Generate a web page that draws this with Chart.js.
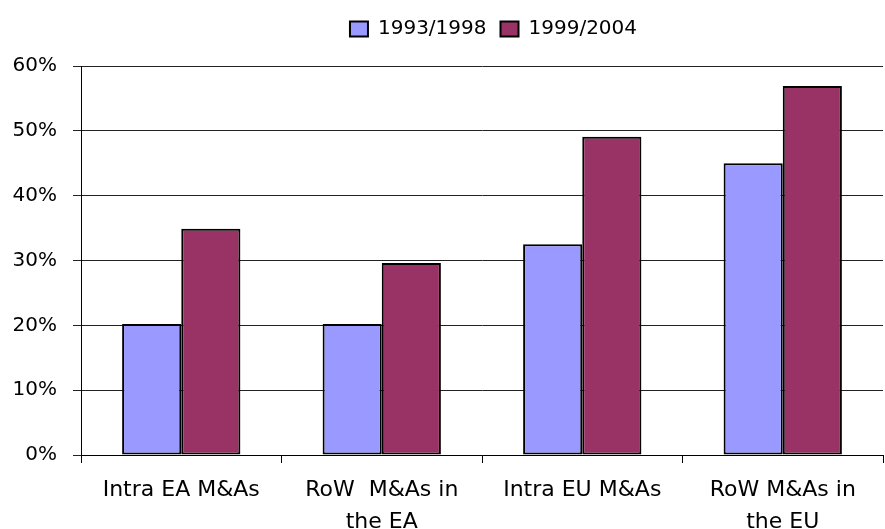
<!DOCTYPE html>
<html>
<head>
<meta charset="utf-8">
<script src="https://cdn.jsdelivr.net/npm/chart.js@4"></script>
<style>
html,body{margin:0;padding:0;background:#fff;}
#wrap{width:885px;height:529px;}
</style>
</head>
<body>
<div id="wrap"><canvas id="c" width="885" height="529"></canvas></div>
<script>
const categories = [["Intra EA M&As"], ["RoW  M&As in", "the EA"], ["Intra EU M&As"], ["RoW M&As in", "the EU"]];
const seriesNames = ["1993/1998", "1999/2004"];
const values1993 = [20.2, 20.2, 32.5, 45.0];
const values1999 = [34.9, 29.6, 49.1, 56.9];
const yTicks = [0, 10, 20, 30, 40, 50, 60];

const FONT = "'DejaVu Sans', sans-serif";

const layoutFix = {
  id: 'layoutFix',
  beforeInit(chart) {
    const lg = chart.legend;
    if (lg) {
      const orig = lg.fit;
      lg.fit = function () { orig.call(this); if (this.isHorizontal()) this.height = 66; };
    }
  },
  afterLayout(chart) {
    const lg = chart.legend;
    if (lg) {
      lg.left += 52; lg.right += 52;
      lg.top += 5; lg.bottom += 5;
    }
  }
};

new Chart(document.getElementById('c'), {
  type: 'bar',
  data: {
    labels: categories,
    datasets: [
      { label: seriesNames[0], data: values1993, backgroundColor: '#9999FF', borderColor: '#000', borderWidth: 2, borderSkipped: false, inflateAmount: 0 },
      { label: seriesNames[1], data: values1999, backgroundColor: '#993366', borderColor: '#000', borderWidth: 2, borderSkipped: false, inflateAmount: 0 }
    ]
  },
  options: {
    responsive: false,
    animation: false,
    devicePixelRatio: 1,
    layout: { padding: { left: 0, right: 2, top: 0, bottom: 0 } },
    datasets: { bar: { categoryPercentage: 0.59, barPercentage: 1.0 } },
    plugins: {
      legend: {
        position: 'top',
        labels: {
          font: { family: FONT, size: 20 },
          color: '#000',
          boxWidth: 18,
          boxHeight: 15,
          padding: 14
        }
      },
      tooltip: { enabled: false }
    },
    scales: {
      x: {
        offset: true,
        grid: { display: true, drawOnChartArea: false, tickLength: 8, color: '#000', offset: true },
        border: { display: true, color: '#000', width: 1 },
        ticks: { font: { family: FONT, size: 22, lineHeight: 1.45 }, color: '#000', padding: 11, maxRotation: 0, autoSkip: false },
        afterFit(s) { s.height = 74; }
      },
      y: {
        min: 0, max: 60,
        afterBuildTicks(s) { s.ticks = yTicks.map(v => ({ value: v })); },
        grid: { color: '#222', lineWidth: 1, tickLength: 8 },
        border: { display: true, color: '#000', width: 1 },
        ticks: { font: { family: FONT, size: 20 }, color: '#000', padding: 16, callback: v => v + '%' },
        afterFit(s) { s.width = 81; }
      }
    }
  },
  plugins: [layoutFix]
});
</script>
</body>
</html>
